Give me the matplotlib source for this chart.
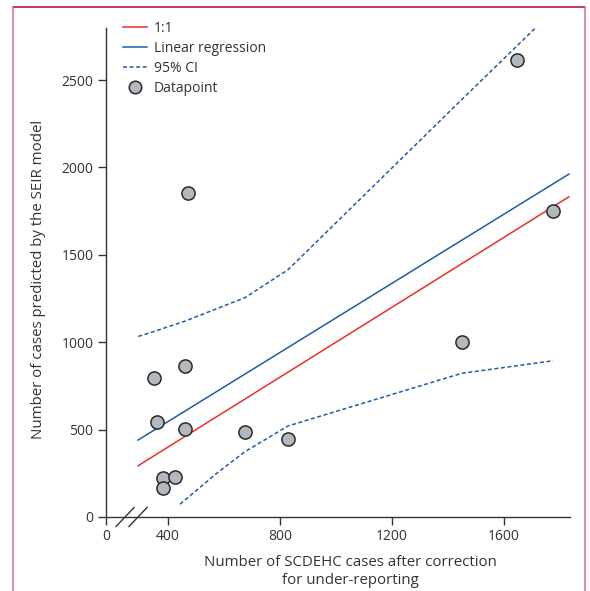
import numpy as np
import matplotlib
matplotlib.use("Agg")
import matplotlib.pyplot as plt
from matplotlib.lines import Line2D

plt.rcParams['font.family'] = ['Open Sans', 'DejaVu Sans']

# datapoints (SCDEHC corrected vs SEIR predicted)
obs_cases = [470, 1645, 1776, 1449, 351, 460, 362, 460, 675, 829, 383, 426, 383]
seir_cases = [1852, 2614, 1752, 1001, 797, 864, 543, 503, 484, 446, 225, 227, 166]

# reference lines
line_x = [293, 1832]
reg_y = [440, 1962]

# 95% CI bands
ci_up_x = [294, 351, 460, 675, 829, 1449, 1776]
ci_up_y = [1033, 1062, 1120, 1255, 1415, 2388, 2897]
ci_lo_x = [443, 574, 675, 829, 1449, 1776]
ci_lo_y = [73, 250, 374, 521, 822, 894]

xtick_pos = [178.6, 400, 800, 1200, 1600]
xtick_lab = ['0', '400', '800', '1200', '1600']
ytick_pos = [0, 500, 1000, 1500, 2000, 2500]

red = '#e8302c'
blue = '#1a5ea8'
axcol = '#333333'

fig = plt.figure(figsize=(5.9, 5.91), dpi=100)
ax = fig.add_axes([106/590, 1-517/591, 464/590, 489/591])

ax.plot(line_x, line_x, color=red, lw=1.1, zorder=2)
ax.plot(line_x, reg_y, color=blue, lw=1.1, zorder=2)
ax.plot(ci_up_x, ci_up_y, color=blue, lw=1.1, dashes=(2.6, 1.7), zorder=2)
ax.plot(ci_lo_x, ci_lo_y, color=blue, lw=1.1, dashes=(2.6, 1.7), zorder=2)
ax.scatter(obs_cases, seir_cases, s=90, facecolor='#b3b8be', edgecolor='#2a2a2a',
           linewidths=1.1, zorder=3)

ax.set_xlim(178.6, 1835.7)
ax.set_ylim(0, 2797.5)
ax.set_xticks(xtick_pos)
ax.set_xticklabels(xtick_lab)
ax.set_yticks(ytick_pos)

for s in ['top', 'right']:
    ax.spines[s].set_visible(False)
for s in ['left', 'bottom']:
    ax.spines[s].set_color(axcol)
    ax.spines[s].set_linewidth(1.0)
ax.tick_params(colors=axcol, labelcolor='#333333', labelsize=10, width=1.0,
               length=6, pad=3)

# axis break marks
for xc in [0.041, 0.069]:
    ax.plot([xc - 0.0195, xc + 0.0195], [-0.0195, 0.0195], transform=ax.transAxes,
            color=axcol, lw=1.0, clip_on=False)

ax.set_ylabel('Number of cases predicted by the SEIR model', fontsize=10.8, color='#333333')
ax.yaxis.set_label_coords(-0.13, 0.485)
ax.set_xlabel('Number of SCDEHC cases after correction\nfor under-reporting',
              fontsize=10.8, color='#333333', linespacing=1.3)
ax.xaxis.set_label_coords(0.526, -0.078)

handles = [Line2D([], [], color=red, lw=1.1),
           Line2D([], [], color=blue, lw=1.1),
           Line2D([], [], color=blue, lw=1.1, dashes=(2.6, 1.7)),
           Line2D([], [], ls='none', marker='o', markersize=9, markerfacecolor='#b3b8be',
                  markeredgecolor='#2a2a2a', markeredgewidth=1.1)]
ax.legend(handles, ['1:1', 'Linear regression', '95% CI', 'Datapoint'],
          loc='upper left', bbox_to_anchor=(0.037, 1.015), frameon=False,
          fontsize=10, handlelength=1.75, handletextpad=0.45, labelspacing=0.36,
          borderpad=0, borderaxespad=0, labelcolor='#333333')

# page frame
fig.add_artist(Line2D([13/590, 585/590], [1-7/591, 1-7/591], color='#b01a3a', lw=1.2))
fig.add_artist(Line2D([13/590, 13/590], [0, 1-7/591], color='#d67c96', lw=1.2))
fig.add_artist(Line2D([585/590, 585/590], [0, 1-7/591], color='#d67c96', lw=1.2))

fig.savefig('out.png', dpi=100, facecolor='white')
